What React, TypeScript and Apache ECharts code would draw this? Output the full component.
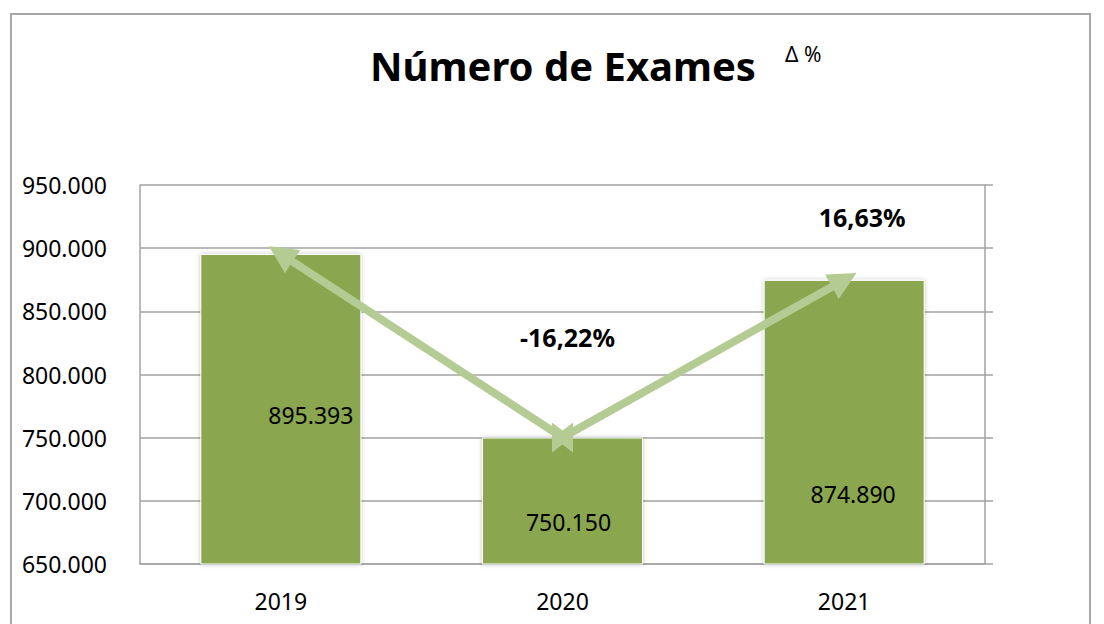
import React, { useEffect, useRef } from "react";
import * as echarts from "echarts";

const categories = ["2019", "2020", "2021"];
const exames = [895393, 750150, 874890];
const deltaLabels = ["", "-16,22%", "16,63%"];
const yTicks = { min: 650000, max: 950000, interval: 50000 };

const FONT = "'Noto Sans', 'Open Sans', sans-serif";
const BAR = "#8aa650";
const LINE = "#b4cb93";
const GRID = "#a3a3a3";

const fmt = (v: number) => String(Math.round(v)).replace(/\B(?=(\d{3})+(?!\d))/g, ".");

export default function App() {
  const ref = useRef<HTMLDivElement>(null);
  useEffect(() => {
    if (!ref.current) return;
    const chart = echarts.init(ref.current, null, { renderer: "svg" });
    const labelOffsets = [[30, 6], [6, 21], [9, 72]];
    const deltaAnchors = [null, 830000, 925000];
    const deltaOffsets = [[0, 0], [5, 0], [18, 0]];
    const deltaData: any[] = [];
    deltaLabels.forEach((t, i) => {
      if (!t) return;
      deltaData.push({
        value: [i, deltaAnchors[i]],
        label: {
          show: true,
          position: "inside",
          offset: deltaOffsets[i],
          formatter: () => t,
          fontFamily: FONT,
          fontSize: 25,
          fontWeight: "bold",
          color: "#000000",
          textBorderWidth: 0,
          opacity: 1,
        },
      });
    });
    chart.setOption({
      animation: false,
      backgroundColor: "#ffffff",
      title: {
        text: "Número de Exames",
        left: 558,
        top: 40,
        textAlign: "center",
        textStyle: { fontFamily: FONT, fontSize: 40, fontWeight: "bold", color: "#000" },
      },
      graphic: [
        {
          type: "rect",
          shape: { x: 11, y: 14, width: 1079, height: 700 },
          style: { fill: "none", stroke: "#a8a8a8", lineWidth: 2 },
          silent: true,
        },
        {
          type: "text",
          x: 785,
          y: 43,
          style: { text: "Δ %", fontFamily: FONT, fontSize: 21, fill: "#000" },
        },
      ],
      grid: { left: 140, top: 185, right: 119, bottom: 60 },
      xAxis: {
        type: "category",
        data: categories,
        axisLine: { lineStyle: { color: GRID, width: 1.5 } },
        axisTick: { show: false },
        axisLabel: { fontFamily: FONT, fontSize: 23, color: "#000", margin: 25 },
      },
      yAxis: [
        {
          type: "value",
          ...yTicks,
          axisLine: { show: true, lineStyle: { color: GRID, width: 1.5 } },
          axisTick: { show: false },
          splitLine: { show: true, lineStyle: { color: GRID, width: 1.5 } },
          axisLabel: { fontFamily: FONT, fontSize: 23, color: "#000", margin: 33, formatter: (v: number) => fmt(v) },
        },
        {
          type: "value",
          position: "right",
          ...yTicks,
          axisLine: { show: true, lineStyle: { color: GRID, width: 1.5 } },
          axisTick: { show: true, inside: false, length: 8, lineStyle: { color: GRID, width: 1.5 } },
          splitLine: { show: false },
          axisLabel: { show: false },
        },
      ],
      series: [
        {
          type: "bar",
          barWidth: 161,
          z: 2,
          itemStyle: {
            color: BAR,
            borderColor: "#ffffff",
            borderWidth: 1,
            shadowBlur: 4,
            shadowColor: "rgba(0,0,0,0.25)",
          },
          data: exames.map((v, i) => ({
            value: v,
            label: {
              show: true,
              position: "inside",
              offset: labelOffsets[i],
              formatter: () => fmt(v),
              fontFamily: FONT,
              fontSize: 23,
              color: "#000",
            },
          })),
        },
        {
          type: "lines",
          coordinateSystem: "cartesian2d",
          z: 5,
          symbol: ["none", "triangle"],
          symbolSize: [0, 28],
          lineStyle: { color: LINE, width: 8, opacity: 1, curveness: 0 },
          itemStyle: { color: LINE },
          data: [
            { coords: [[1, exames[1]], [0, exames[0]]] },
            { coords: [[1, exames[1]], [2, exames[2]]] },
          ],
        },
        {
          type: "scatter",
          z: 6,
          symbol: "path://M0,0 L10,8 L20,0 L20,30 L10,22 L0,30 Z",
          symbolSize: [21, 30],
          itemStyle: { color: LINE, opacity: 1 },
          data: [[1, exames[1]]],
          silent: true,
        },
        {
          type: "scatter",
          z: 7,
          symbolSize: 2,
          itemStyle: { color: "#ffffff", opacity: 0 },
          data: deltaData,
          silent: true,
        },
      ],
    });
    return () => chart.dispose();
  }, []);
  return (
    <div
      ref={ref}
      style={{ position: "fixed", left: 0, top: 0, width: 1104, height: 624, background: "#fff" }}
    />
  );
}
